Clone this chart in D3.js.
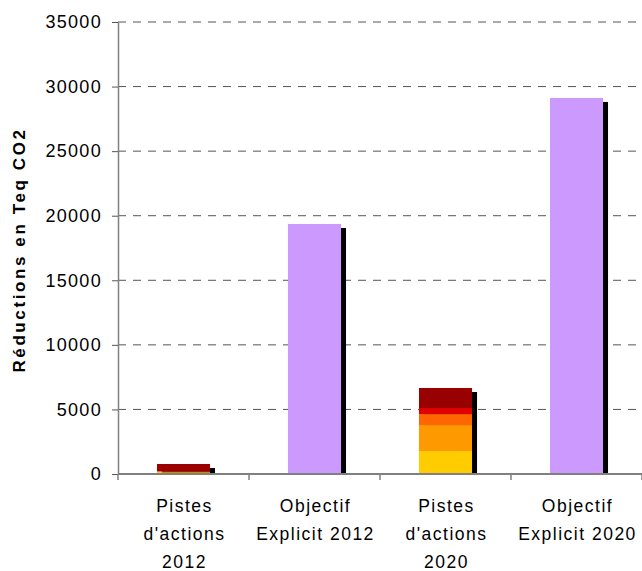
<!DOCTYPE html>
<html><head><meta charset="utf-8">
<script src="https://cdn.jsdelivr.net/npm/d3@7"></script>
<style>
html,body{margin:0;padding:0;background:#fff;}
svg{display:block;font-family:"Liberation Sans",Arial,sans-serif;}
</style></head>
<body>
<script>
const categories = [["Pistes","d'actions","2012"],["Objectif","Explicit 2012"],["Pistes","d'actions","2020"],["Objectif","Explicit 2020"]];
const catKeys = ["p2012","o2012","p2020","o2020"];
const seriesNames = ["s1","s2","s3","s4","s5","objectif"];
const s1 = [130, 0, 1780, 0];
const s2 = [30, 0, 2010, 0];
const s3 = [40, 0, 850, 0];
const s4 = [20, 0, 470, 0];
const s5 = [555, 0, 1550, 0];
const objectif = [0, 19360, 0, 29120];
const yTicks = [0,5000,10000,15000,20000,25000,30000,35000];
const colors = ["#FFCC00","#FF9900","#FF6600","#E00000","#990000","#CC99FF"];

const W=642,H=571;
const svg=d3.select("body").append("svg").attr("width",W).attr("height",H);
const x=d3.scaleBand().domain(catKeys).range([118,642]).padding(0);
const y=d3.scaleLinear().domain([0,35000]).range([474,22]);
const bw=x.bandwidth()*0.405;
const barX=k=>x(k)+(x.bandwidth()-bw)/2;

// gridlines
svg.append("g").selectAll("line").data(yTicks.filter(t=>t>0)).join("line")
 .attr("x1",118).attr("x2",642).attr("y1",d=>y(d)).attr("y2",d=>y(d))
 .attr("stroke","#555").attr("stroke-width",1).attr("stroke-dasharray","8,7");

const rows=catKeys.map((k,i)=>({key:k,s1:s1[i],s2:s2[i],s3:s3[i],s4:s4[i],s5:s5[i],objectif:objectif[i]}));
const stack=d3.stack().keys(seriesNames)(rows);
const totals=rows.map(r=>seriesNames.reduce((a,s)=>a+r[s],0));

// shadows
svg.append("g").selectAll("rect").data(rows).join("rect")
 .attr("x",(d)=>barX(d.key)+5).attr("width",bw)
 .attr("y",(d,i)=>y(totals[i])+4).attr("height",(d,i)=>y(0)-y(totals[i])-4)
 .attr("fill","#000");

// bars
svg.append("g").selectAll("g").data(stack).join("g").attr("fill",(d,i)=>colors[i])
 .selectAll("rect").data(d=>d.filter(v=>v[1]-v[0]>0)).join("rect")
 .attr("x",d=>barX(d.data.key)).attr("width",bw)
 .attr("y",d=>y(d[1])).attr("height",d=>y(d[0])-y(d[1]));

// y axis
const ya=svg.append("g").attr("transform","translate(118,0)")
 .call(d3.axisLeft(y).tickValues(yTicks).tickSize(6).tickSizeOuter(0).tickPadding(10).tickFormat(d3.format("d")));
ya.select(".domain").attr("stroke","#808080").attr("stroke-width",1.5);
ya.selectAll(".tick line").attr("stroke","#555");
ya.selectAll(".tick text").attr("font-size","18px").attr("fill","#000")
 .attr("font-family","'Liberation Sans',Arial,sans-serif").style("letter-spacing","1.3px");

// x axis
svg.append("line").attr("x1",118).attr("x2",642).attr("y1",474).attr("y2",474).attr("stroke","#808080").attr("stroke-width",2);
svg.append("g").selectAll("line").data(catKeys.concat(["end"])).join("line")
 .attr("x1",(d,i)=>118+i*x.bandwidth()).attr("x2",(d,i)=>118+i*x.bandwidth())
 .attr("y1",474).attr("y2",480).attr("stroke","#808080").attr("stroke-width",1.5);

const lab=svg.append("g").selectAll("text").data(categories).join("text")
 .attr("text-anchor","middle").attr("font-size","17.5px").style("letter-spacing","1.5px");
lab.each(function(lines,i){
  const t=d3.select(this);
  lines.forEach((l,j)=>t.append("tspan").attr("x",x(catKeys[i])+x.bandwidth()/2+1).attr("y",512+j*28).text(l));
});

svg.append("text").attr("transform","translate(25,250) rotate(-90)").attr("text-anchor","middle")
 .attr("font-size","17px").attr("font-weight","bold").style("letter-spacing","2.6px").text("Réductions en Teq CO2");
</script>
</body></html>
